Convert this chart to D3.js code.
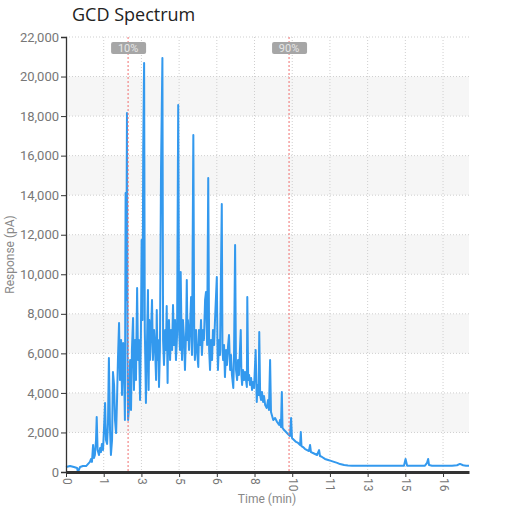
<!DOCTYPE html>
<html>
<head>
<meta charset="utf-8">
<script src="https://cdn.jsdelivr.net/npm/d3@7"></script>
<style>
    body { margin: 0; background: #fff; }
    svg { display: block; }
</style>
</head>
<body>
<svg id="chart" width="508" height="517"></svg>
<script>
'use strict';

// time (min) and response (pA)
const TIME = [
    0, 0.18, 0.35, 0.49, 0.53, 0.62, 0.75, 0.89, 0.97, 1.06, 1.11, 1.15, 1.20, 1.24, 1.28, 1.33, 1.36, 1.40, 1.46, 1.51,
    1.55, 1.59, 1.64, 1.68, 1.73, 1.77, 1.82, 1.86, 1.90, 1.95, 1.99, 2.04, 2.08, 2.13, 2.17, 2.22, 2.26, 2.30, 2.35, 2.39,
    2.44, 2.48, 2.53, 2.57, 2.61, 2.64, 2.67, 2.70, 2.73, 2.75, 2.79, 2.84, 2.88, 2.92, 2.97, 3.01, 3.06, 3.10, 3.15, 3.19,
    3.23, 3.28, 3.32, 3.35, 3.39, 3.42, 3.46, 3.49, 3.52, 3.54, 3.59, 3.63, 3.66, 3.69, 3.72, 3.77, 3.81, 3.85, 3.90, 3.94,
    3.99, 4.02, 4.05, 4.08, 4.12, 4.16, 4.21, 4.27, 4.30, 4.34, 4.39, 4.43, 4.46, 4.50, 4.52, 4.56, 4.61, 4.65, 4.70, 4.74,
    4.78, 4.83, 4.87, 4.92, 4.97, 5.01, 5.05, 5.08, 5.12, 5.14, 5.18, 5.23, 5.27, 5.32, 5.35, 5.38, 5.40, 5.45, 5.49, 5.54,
    5.58, 5.64, 5.68, 5.71, 5.76, 5.80, 5.86, 5.89, 5.94, 5.98, 6.02, 6.07, 6.11, 6.16, 6.20, 6.25, 6.30, 6.34, 6.38, 6.42,
    6.47, 6.51, 6.56, 6.60, 6.68, 6.71, 6.73, 6.78, 6.82, 6.90, 6.93, 6.96, 7.00, 7.04, 7.09, 7.13, 7.18, 7.22, 7.27, 7.31,
    7.35, 7.41, 7.44, 7.49, 7.53, 7.58, 7.62, 7.66, 7.74, 7.77, 7.80, 7.84, 7.89, 7.93, 8.01, 8.03, 8.07, 8.11, 8.15, 8.20,
    8.24, 8.28, 8.33, 8.40, 8.45, 8.48, 8.53, 8.56, 8.60, 8.64, 8.68, 8.73, 8.77, 8.82, 8.89, 8.95, 8.99, 9.04, 9.08, 9.13,
    9.18, 9.26, 9.35, 9.44, 9.48, 9.52, 9.56, 9.59, 9.66, 9.75, 9.83, 9.92, 9.97, 10.01, 10.10, 10.19, 10.28, 10.37, 10.40, 10.43,
    10.50, 10.59, 10.68, 10.76, 10.81, 10.85, 10.94, 11.03, 11.12, 11.21, 11.25, 11.34, 11.47, 11.61, 11.74, 11.87, 12.01, 12.14, 12.32, 12.49,
    12.67, 12.85, 13.02, 13.25, 13.47, 13.69, 13.91, 14.13, 14.35, 14.57, 14.80, 14.97, 15.04, 15.11, 15.24, 15.46, 15.68, 15.90, 15.99, 16.04,
    16.08, 16.21, 16.44, 16.66, 16.88, 17.10, 17.32, 17.45, 17.59, 17.72, 17.85
];
const RESPONSE = [
    250, 300, 250, 200, 0, 250, 300, 300, 400, 510, 660, 510, 1370, 710, 860, 1620, 2780, 1110, 860, 1210,
    1010, 1420, 1110, 2120, 3490, 1620, 1420, 2480, 5770, 2120, 860, 1620, 5060, 4400, 2630, 1970, 3640, 5660, 7540, 4650,
    6680, 3890, 6520, 5160, 2630, 14110, 8700, 18160, 4650, 2630, 3240, 5660, 3140, 6170, 7790, 4150, 6680, 4650, 9310, 5660,
    6680, 3640, 7180, 11730, 7690, 16290, 20690, 7180, 5160, 3490, 6680, 9200, 4150, 7690, 5660, 7180, 8700, 5660, 7180, 6420,
    4650, 8190, 5660, 6680, 4300, 6170, 15430, 20940, 6680, 5410, 7180, 6170, 8400, 4500, 6680, 7690, 5660, 7180, 6170, 8450,
    6420, 7690, 5660, 6930, 18560, 7180, 6170, 10120, 6680, 5660, 7690, 6680, 5160, 7180, 9710, 6680, 7690, 6170, 7180, 8850,
    5920, 17040, 6680, 5660, 7180, 6170, 5310, 7180, 6420, 7690, 5920, 7180, 6680, 8700, 9100, 6420, 14870, 6170, 5160, 6680,
    5660, 7180, 6420, 7690, 9860, 6170, 5160, 6680, 5920, 13550, 6170, 5660, 6420, 4800, 6170, 5410, 6420, 6930, 5160, 5920,
    4910, 4250, 5660, 11480, 5160, 4650, 5660, 4910, 7180, 4910, 4400, 5160, 4650, 5060, 4300, 8850, 4650, 4910, 4400, 4750,
    4150, 4550, 4250, 6170, 3540, 4400, 3890, 7080, 3890, 3640, 4050, 3540, 3840, 3390, 3240, 3640, 3140, 5660, 3030, 2830,
    2630, 2730, 2530, 2380, 2630, 2280, 4050, 2230, 2120, 2020, 1920, 1820, 2730, 1720, 1620, 1520, 1470, 1370, 2020, 1310,
    1260, 1160, 1110, 1060, 1370, 1010, 960, 910, 860, 1110, 810, 760, 660, 610, 560, 510, 460, 400, 350, 330,
    320, 320, 310, 320, 310, 310, 320, 310, 320, 310, 320, 320, 660, 320, 320, 320, 320, 320, 460, 660,
    350, 320, 320, 320, 320, 320, 340, 410, 340, 320, 320
];

const X_TICKS = [0, 1.67, 3.34, 5.01, 6.68, 8.35, 10.02, 11.69, 13.36, 15.03, 16.7];
const X_TICK_LABELS = ['0', '1', '3', '5', '6', '8', '10', '11', '13', '15', '16'];
const Y_TICKS = [0, 2000, 4000, 6000, 8000, 10000, 12000, 14000, 16000, 18000, 20000, 22000];

const MARKER_TIMES = [2.75, 9.88];
const MARKER_LABELS = ['10%', '90%'];

const WIDTH = 508;
const HEIGHT = 517;
const MARGIN = { top: 37, right: 39, bottom: 45, left: 66 };
const FONT = 'Roboto, "Liberation Sans", sans-serif';

const svg = d3.select('#chart');
const plotW = WIDTH - MARGIN.left - MARGIN.right;
const plotH = HEIGHT - MARGIN.top - MARGIN.bottom;

const xScale = d3.scaleLinear().domain([0, 17.85]).range([0, plotW]);
const yScale = d3.scaleLinear().domain([0, 22000]).range([plotH, 0]);

const g = svg.append('g').attr('transform', `translate(${MARGIN.left},${MARGIN.top})`);

// alternating horizontal bands
const bands = d3.pairs(Y_TICKS).filter((d, i) => i % 2 === 1);
g.selectAll('rect.band')
    .data(bands)
    .join('rect')
    .attr('class', 'band')
    .attr('x', 0)
    .attr('width', plotW)
    .attr('y', (d) => yScale(d[1]))
    .attr('height', (d) => yScale(d[0]) - yScale(d[1]))
    .attr('fill', '#f6f6f6');

// dotted grid
g.selectAll('line.hgrid')
    .data(Y_TICKS.slice(1))
    .join('line')
    .attr('class', 'hgrid')
    .attr('x1', 0)
    .attr('x2', plotW)
    .attr('y1', (d) => yScale(d))
    .attr('y2', (d) => yScale(d))
    .attr('stroke', '#cfcfcf')
    .attr('stroke-dasharray', '1,2');

g.selectAll('line.vgrid')
    .data(X_TICKS.slice(1))
    .join('line')
    .attr('class', 'vgrid')
    .attr('x1', (d) => xScale(d))
    .attr('x2', (d) => xScale(d))
    .attr('y1', 0)
    .attr('y2', plotH)
    .attr('stroke', '#cfcfcf')
    .attr('stroke-dasharray', '1,2');

// signal
const line = d3.line()
    .x((d, i) => xScale(TIME[i]))
    .y((d) => yScale(d));

g.append('path')
    .datum(RESPONSE)
    .attr('d', line)
    .attr('fill', 'none')
    .attr('stroke', '#3399ee')
    .attr('stroke-width', 2)
    .attr('stroke-linejoin', 'round');

// 10% / 90% markers
const markers = g.selectAll('g.marker')
    .data(MARKER_TIMES)
    .join('g')
    .attr('class', 'marker')
    .attr('transform', (d) => `translate(${xScale(d)},0)`);

markers.append('line')
    .attr('y1', 0)
    .attr('y2', plotH)
    .attr('stroke', '#f07070')
    .attr('stroke-width', 1)
    .attr('stroke-dasharray', '2,2');

markers.append('rect')
    .attr('x', -17)
    .attr('y', 5)
    .attr('width', 35)
    .attr('height', 12)
    .attr('rx', 2)
    .attr('fill', '#a6a6a6');

markers.append('text')
    .attr('x', 0)
    .attr('y', 15)
    .attr('text-anchor', 'middle')
    .attr('font-family', FONT)
    .attr('font-size', 11)
    .attr('fill', '#e6e6e6')
    .text((d, i) => MARKER_LABELS[i]);

// axes
const yAxis = d3.axisLeft(yScale)
    .tickValues(Y_TICKS)
    .tickSize(5)
    .tickFormat(d3.format(','));

const yG = g.append('g').call(yAxis);
yG.select('.domain').attr('stroke', '#333').attr('stroke-width', 1.3);
yG.selectAll('.tick line').attr('stroke', '#333');
yG.selectAll('.tick text')
    .attr('font-family', FONT)
    .attr('font-size', 13)
    .attr('fill', '#777')
    .attr('x', -7);

const xAxis = d3.axisBottom(xScale)
    .tickValues(X_TICKS)
    .tickSize(5)
    .tickSizeOuter(0)
    .tickFormat((d, i) => X_TICK_LABELS[i]);

const xG = g.append('g').attr('transform', `translate(0,${plotH})`).call(xAxis);
xG.select('.domain').attr('stroke', '#333').attr('stroke-width', 3);
xG.selectAll('.tick line').attr('stroke', '#333');
xG.selectAll('.tick text')
    .attr('font-family', FONT)
    .attr('font-size', 12)
    .attr('fill', '#777')
    .attr('text-anchor', 'start')
    .attr('dy', null)
    .attr('y', 0)
    .attr('x', 0)
    .attr('transform', 'translate(-4,6) rotate(90)');

// titles
svg.append('text')
    .attr('x', 72)
    .attr('y', 21)
    .attr('font-family', '"Open Sans", sans-serif')
    .attr('font-size', 18)
    .attr('fill', '#222')
    .text('GCD Spectrum');

svg.append('text')
    .attr('transform', `translate(14,${MARGIN.top + plotH / 2}) rotate(-90)`)
    .attr('text-anchor', 'middle')
    .attr('font-family', FONT)
    .attr('font-size', 12)
    .attr('fill', '#888')
    .text('Response (pA)');

svg.append('text')
    .attr('x', 267)
    .attr('y', 503)
    .attr('text-anchor', 'middle')
    .attr('font-family', FONT)
    .attr('font-size', 12)
    .attr('fill', '#888')
    .text('Time (min)');
</script>
</body>
</html>
